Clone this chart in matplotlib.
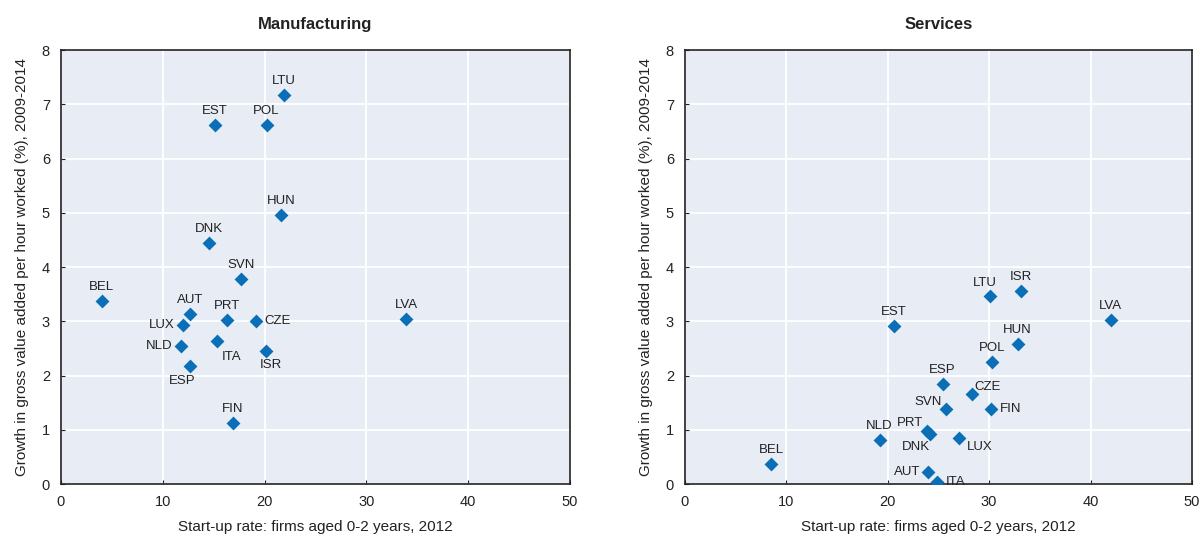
import matplotlib.pyplot as plt

plt.rcParams['font.family'] = ['Liberation Sans Narrow', 'Liberation Sans', 'DejaVu Sans']

# Manufacturing
man_codes = ["LTU", "EST", "POL", "HUN", "DNK", "SVN", "BEL", "AUT", "PRT", "CZE",
             "LUX", "LVA", "NLD", "ITA", "ISR", "ESP", "FIN"]
man_x = [21.9, 15.1, 20.2, 21.6, 14.5, 17.7, 4.0, 12.7, 16.3, 19.2,
         12.0, 33.9, 11.8, 15.3, 20.1, 12.7, 16.9]
man_y = [7.17, 6.62, 6.62, 4.96, 4.44, 3.78, 3.37, 3.13, 3.02, 3.00,
         2.93, 3.04, 2.54, 2.64, 2.45, 2.17, 1.12]
man_pos = ["above", "above", "above", "above", "above", "above", "above", "above", "above", "right",
           "left", "above", "left", "belowright", "belowright2", "belowleft2", "above"]

# Services
srv_codes = ["BEL", "EST", "NLD", "ESP", "SVN", "PRT", "DNK", "AUT", "ITA", "CZE",
             "FIN", "LUX", "LTU", "ISR", "POL", "HUN", "LVA"]
srv_x = [8.5, 20.6, 19.2, 25.4, 25.7, 23.9, 24.2, 24.0, 24.9, 28.3,
         30.2, 27.0, 30.1, 33.1, 30.3, 32.8, 42.0]
srv_y = [0.37, 2.91, 0.81, 1.84, 1.38, 0.98, 0.92, 0.22, 0.04, 1.66,
         1.38, 0.85, 3.47, 3.56, 2.25, 2.58, 3.02]
srv_pos = ["above", "above", "above", "above", "upleft", "upleft", "belowleft", "left", "right", "upright",
           "right", "downright", "upleft2", "above", "above", "above", "above"]

xticks = [0, 10, 20, 30, 40, 50]
yticks = [0, 1, 2, 3, 4, 5, 6, 7, 8]

offsets = {
    "above": (0, 6, 'center', 'bottom'),
    "below": (0, -6, 'center', 'top'),
    "belowright": (11, -7, 'center', 'top'),
    "belowright2": (4, -6, 'center', 'top'),
    "belowleft2": (-6, -6, 'center', 'top'),
    "left": (-6, 0, 'right', 'center'),
    "right": (6, 0, 'left', 'center'),
    "upleft": (-3, 1, 'right', 'bottom'),
    "upleft2": (-4, 5, 'center', 'bottom'),
    "belowleft": (0, -5, 'right', 'top'),
    "upright": (2, 1, 'left', 'bottom'),
    "downright": (6, -2, 'left', 'top'),
}

fig = plt.figure(figsize=(12.03, 5.40), dpi=100)
ax1 = fig.add_axes([0.0507, 0.1037, 0.4231, 0.8037])
ax2 = fig.add_axes([0.5694, 0.1037, 0.4214, 0.8037])

for ax, title, codes, xs, ys, pos in [
        (ax1, "Manufacturing", man_codes, man_x, man_y, man_pos),
        (ax2, "Services", srv_codes, srv_x, srv_y, srv_pos)]:
    ax.set_facecolor('#E8ECF5')
    ax.set_xlim(0, 50)
    ax.set_ylim(0, 8)
    ax.set_xticks(xticks)
    ax.set_yticks(yticks)
    ax.grid(color='white', linewidth=1.3)
    ax.set_axisbelow(True)
    for s in ax.spines.values():
        s.set_color('#222222')
        s.set_linewidth(1.2)
    ax.tick_params(direction='in', length=3, color='#222222', labelsize=10.5,
                   labelcolor='#222222', pad=8)
    ax.scatter(xs, ys, marker='D', s=50, color='#0B6FB8', zorder=3, linewidths=0)
    for c, x, y, p in zip(codes, xs, ys, pos):
        dx, dy, ha, va = offsets[p]
        ax.annotate(c, (x, y), xytext=(dx, dy), textcoords='offset points',
                    ha=ha, va=va, fontsize=9.5, color='#222222')
    ax.set_title(title, fontsize=12, fontweight='bold', color='#222222', pad=15)
    ax.set_xlabel("Start-up rate: firms aged 0-2 years, 2012", fontsize=11,
                  color='#222222', labelpad=8)
    ax.set_ylabel("Growth in gross value added per hour worked (%), 2009-2014",
                  fontsize=11, color='#222222', labelpad=9)

fig.savefig('out.png', dpi=100)
